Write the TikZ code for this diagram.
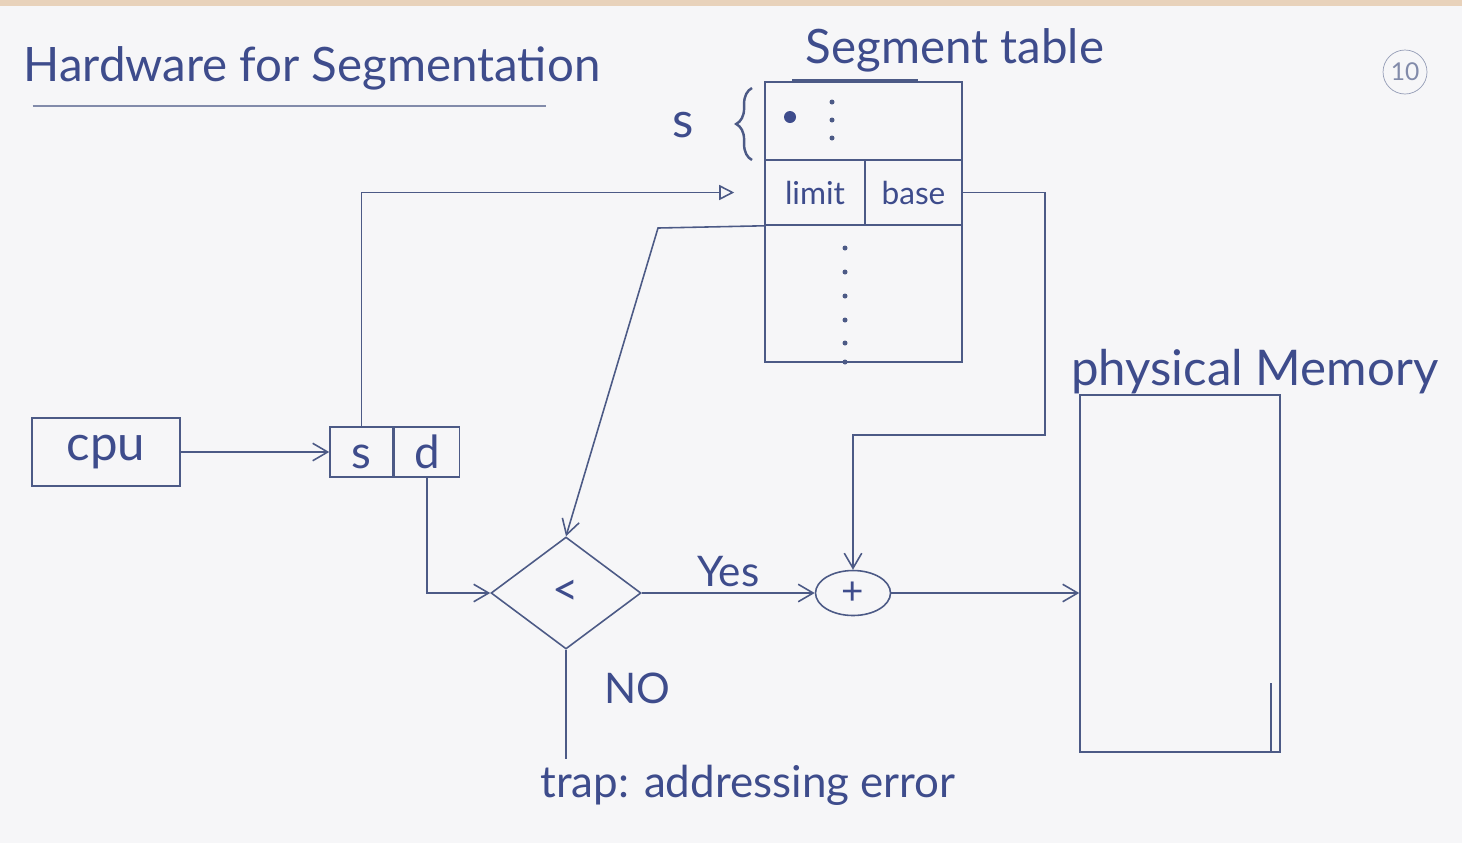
\documentclass[tikz,border=0pt]{standalone}
\usepackage{fontspec}
\setmainfont{Lato}
\usetikzlibrary{arrows.meta,positioning,calc,shapes.geometric,decorations.pathreplacing}
\definecolor{ink}{HTML}{4C5A86}
\definecolor{pen}{HTML}{3E4C8C}
\definecolor{paper}{HTML}{F6F6F8}
\definecolor{tape}{HTML}{D8B48E}

\begin{document}
\begin{tikzpicture}[
  x=0.02cm, y=-0.02cm,
  every node/.style={text=pen},
  hand/.style={font=\fontsize{#1}{#1}\selectfont},
  cell/.style={draw=ink, line width=0.9pt, inner sep=0pt},
  wire/.style={draw=ink, line width=0.9pt},
  flow/.style={wire, -{Straight Barb[length=3mm, width=3.5mm]}}
]
  \fill[paper] (0,0) rectangle (1462,843);
  \fill[tape!60] (0,0) rectangle (1462,6);
  \useasboundingbox (0,0) rectangle (1462,843);

  % Title and page number
  \node[hand=27] (title) at (312,68) {Hardware for Segmentation};
  \draw[wire, ink!70] ($(title.south west)+(15,10)$) -- ($(title.south east)+(-60,10)$);
  \node[circle, draw=ink!60, hand=14, text=ink!70, minimum size=0.88cm, inner sep=0pt] (page) at (1405,72) {10};

  % Segment table
  \node[cell, minimum width=3.94cm, minimum height=5.6cm] (tbl) at (863.5,222) {};
  \node[cell, minimum width=2cm, minimum height=1.3cm, hand=18] (limit) at (815,192.5) {limit};
  \node[cell, minimum width=1.94cm, minimum height=1.3cm, hand=18] (base) at (913.5,192.5) {base};
  \node[hand=27] (tbllabel) at (955,50) {Segment table};
  \draw[wire] (792,80) -- (918,80);
  \node[hand=28] (sidx) at (683,125) {s};
  \draw[wire, line width=1.4pt, decorate, decoration={brace, amplitude=9pt}] (752,160) -- (752,88);
  \fill[pen] (790,117) circle (6);
  \foreach \y in {102,120,138} \fill[ink] (832,\y) circle (2.5);
  \foreach \y in {248,272,296,320,343,362} \fill[ink] (845,\y) circle (2.5);

  % CPU and logical address
  \node[cell, minimum width=2.96cm, minimum height=1.36cm, hand=28] (cpu) at (106,452) {cpu};
  \node[cell, minimum width=1.26cm, minimum height=1cm, hand=26, text height=19pt, text depth=0pt] (segno) at (361.5,452) {s};
  \node[cell, minimum width=1.3cm, minimum height=1cm, hand=26, text height=19pt, text depth=0pt, right=0pt of segno] (offset) {d};

  % Limit check and adder
  \node[diamond, draw=ink, line width=0.9pt, minimum width=3cm, minimum height=2.24cm, inner sep=0pt, hand=26] (cmp) at (566,593) {<};
  \node[ellipse, draw=ink, line width=0.9pt, minimum width=1.5cm, minimum height=0.9cm, inner sep=0pt, hand=22] (add) at (853,593) {+};

  % Physical memory
  \node[cell, minimum width=4cm, minimum height=7.14cm] (mem) at (1180,573.5) {};
  \draw[wire] ($(mem.south east)+(-10,0)$) -- ++(0,-70);
  \node[hand=28, anchor=base west] (memlabel) at (1065,385) {physical Memory};
  \node[hand=25] (trap) at (748,785) {trap: addressing error};

  % Connectors
  \draw[flow] (cpu) -- (segno);
  \draw[wire, -{Triangle[open, length=3mm, width=3mm]}, shorten >=0.6cm] (segno.north) |- (limit.west);
  \coordinate (lbend) at (658,228);
  \draw[flow] (limit.south west) -- (lbend) -- (cmp.north);
  \draw[flow] (offset.south) |- (cmp.west);
  \draw[flow] (cmp.east) -- node[above, hand=24] (yes) {Yes} (add.west);
  \coordinate (bbend) at (1045,435);
  \draw[flow] (base.east) -| (bbend) -| (add.north);
  \draw[flow] (add.east) -- (mem.west |- add.east);
  \draw[wire] (cmp.south) -- (cmp.south |- trap.north) node[pos=0.35, right=18pt, hand=24] (no) {NO};
\end{tikzpicture}
\end{document}
